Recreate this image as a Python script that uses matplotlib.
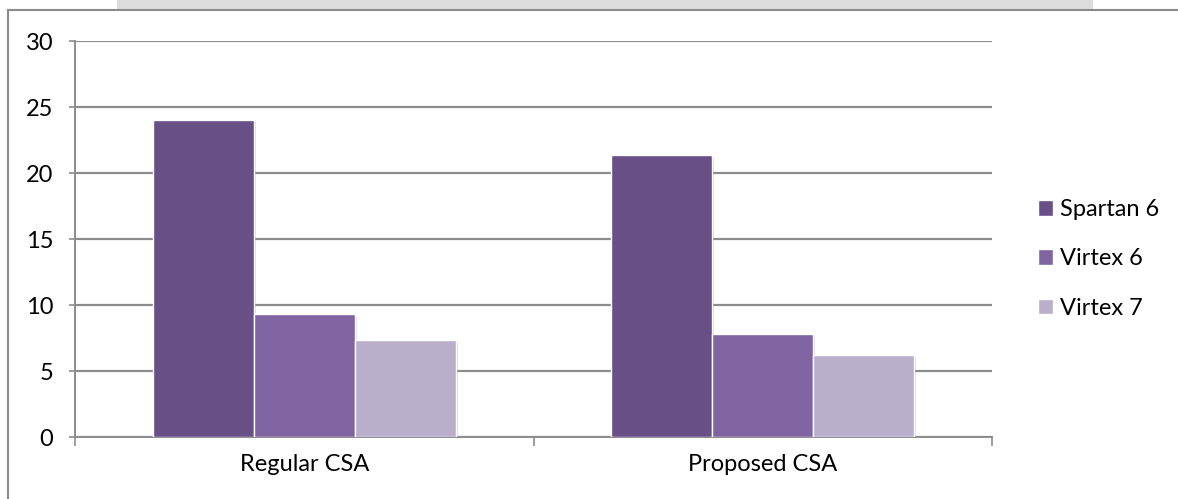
import matplotlib
matplotlib.use("Agg")
import matplotlib.pyplot as plt
import numpy as np
from matplotlib.lines import Line2D
from matplotlib.patches import Rectangle
import matplotlib.patheffects as pe

categories = ["Regular CSA", "Proposed CSA"]
series_names = ["Spartan 6", "Virtex 6", "Virtex 7"]
spartan6 = [24.05, 21.35]
virtex6 = [9.3, 7.8]
virtex7 = [7.35, 6.2]
yticks = [0, 5, 10, 15, 20, 25, 30]

colors = ["#684f86", "#8064a2", "#b9afca"]

plt.rcParams['font.family'] = ['Lato', 'DejaVu Sans']

W, H = 1178, 499
fs = 17
fig = plt.figure(figsize=(W / 100, H / 100), dpi=100)
ax = fig.add_axes([75 / W, 1 - 437.3 / H, (992 - 75) / W, (437.3 - 41) / H])

x = np.arange(len(categories))
bw = 0.22
grid_c = "#8c8c8c"
for i, (vals, name) in enumerate(zip([spartan6, virtex6, virtex7], series_names)):
    ax.bar(x + (i - 1) * bw, vals, width=bw, color=colors[i], edgecolor="white",
           linewidth=1.0, label=name, zorder=3,
           path_effects=[pe.SimplePatchShadow(offset=(1.5, -1.5), shadow_rgbFace="#999999", alpha=0.35),
                         pe.Normal()])

ax.set_xlim(-0.5, 1.5)
ax.set_ylim(0, 30)
ax.set_yticks(yticks)
ax.set_yticklabels([str(v) for v in yticks], fontsize=fs)
ax.yaxis.grid(True, color=grid_c, linewidth=1.6, zorder=0)
ax.set_axisbelow(True)

ax.set_xticks(x)
ax.set_xticklabels(categories, fontsize=fs)
ax.set_xticks([-0.5, 0.5, 1.5], minor=True)
ax.tick_params(axis='x', which='major', length=0, pad=12)
ax.tick_params(axis='x', which='minor', length=6.5, width=1.2, color=grid_c)
ax.tick_params(axis='y', length=4.5, width=1.2, color=grid_c, pad=11)

for s in ["top", "right"]:
    ax.spines[s].set_visible(False)
for s in ["left", "bottom"]:
    ax.spines[s].set_color(grid_c)
    ax.spines[s].set_linewidth(1.4)

leg = ax.legend(loc="center left", bbox_to_anchor=(1.027, 0.45), frameon=False,
                fontsize=fs, handlelength=0.63, handleheight=0.63,
                handletextpad=0.3, labelspacing=1.2)
for h in leg.legend_handles:
    h.set_path_effects([])

# outer chart frame
fig.add_artist(Line2D([8 / W, 8 / W], [0, 1 - 10 / H], color="#8a8a8a", linewidth=1.5))
fig.add_artist(Line2D([8 / W, 1], [1 - 10 / H, 1 - 10 / H], color="#8a8a8a", linewidth=1.5))
# faint grey band at top (page fragment)
fig.add_artist(Rectangle((117 / W, 1 - 9 / H), (1093 - 117) / W, 9 / H,
                         transform=fig.transFigure, facecolor="#dcdcdc", edgecolor="none"))

fig.savefig("out.png", dpi=100)
